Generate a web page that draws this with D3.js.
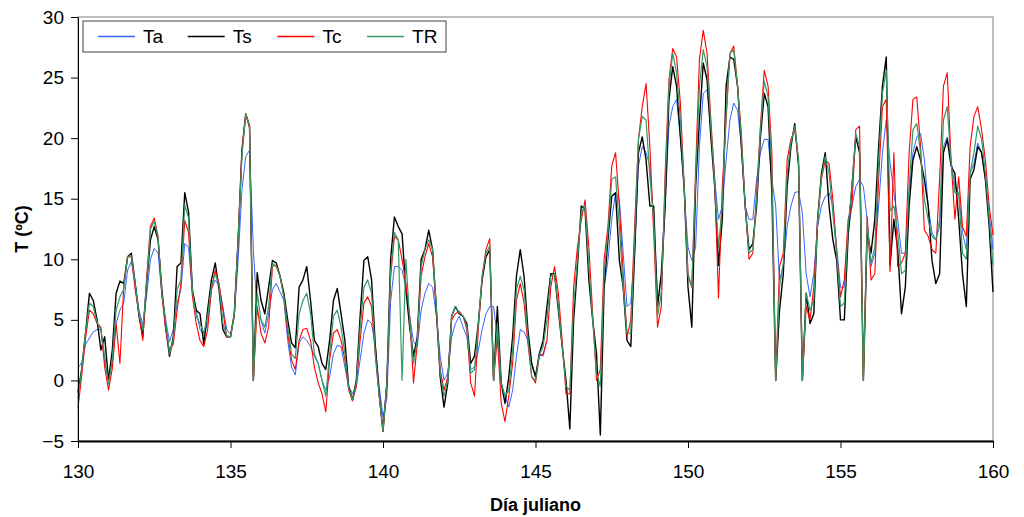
<!DOCTYPE html>
<html>
<head>
<meta charset="utf-8">
<script src="https://cdn.jsdelivr.net/npm/d3@7"></script>
<style>
  body { margin: 0; background: #fff; }
  text { font-family: "Liberation Sans", Arial, sans-serif; }
</style>
</head>
<body>
<div id="chart"></div>
<script>
// frame
const FRAME_WIDTH = 1024;
const FRAME_HEIGHT = 517;
const MARGINS = {left: 78, right: 31, top: 17, bottom: 76};
const VIS_WIDTH = FRAME_WIDTH - MARGINS.left - MARGINS.right;
const VIS_HEIGHT = FRAME_HEIGHT - MARGINS.top - MARGINS.bottom;

// data: one reading every 3 hours (1/8 day), day 130 to 160
const DAY_START = 130;
const STEP = 0.125;
const xTicks = [130, 135, 140, 145, 150, 155, 160];
const yTicks = [-5, 0, 5, 10, 15, 20, 25, 30];
const seriesNames = ["Ta", "Ts", "Tc", "TR"];
const seriesColors = ["#3366ff", "#000000", "#ff0000", "#339966"];

const Ta = [
  1.0, 1.5, 3.0, 3.5, 4.0, 4.2, 4.2, 1.5,
  0.0, 1.5, 4.7, 5.8, 6.4, 9.1, 9.8, 8.0,
  5.8, 4.6, 7.0, 10.0, 10.9, 10.5, 7.0, 5.0,
  3.2, 4.2, 6.4, 7.5, 11.3, 11.0, 7.2, 5.8,
  4.2, 3.8, 4.7, 7.5, 8.3, 7.8, 6.1, 4.2,
  3.8, 5.3, 9.9, 15.7, 18.5, 19.0, 10.8, 5.5,
  5.0, 3.9, 5.5, 7.5, 8.0, 7.3, 6.6, 3.3,
  1.1, 0.45, 3.1, 3.6, 3.3, 2.8, 2.0, 1.4,
  0.0, -0.8, 0.3, 2.2, 2.9, 2.8, 1.1, -0.5,
  -1.1, -0.5, 1.7, 3.9, 5.0, 4.7, 2.8, -0.5,
  -3.0, -1.5, 6.5, 9.4, 9.4, 9.1, 7.7, 5.3,
  3.2, 2.8, 5.8, 7.2, 8.0, 7.7, 5.3, 2.0,
  0.0, 0.6, 3.6, 4.7, 5.3, 4.4, 3.6, 0.9,
  1.1, 2.5, 4.2, 5.5, 6.1, 6.1, 3.6, -0.2,
  -1.3, -2.2, -0.8, 2.0, 4.2, 4.0, 3.3, 1.4,
  0.3, 2.2, 2.0, 3.3, null, null, null, null,
  null, null, null, null, null, null, null, null,
  null, null, 7.7, 9.9, 13.3, 15.5, 14.9, 10.5,
  6.1, 6.4, 10.5, 17.7, 19.3, 18.8, 17.7, 13.3,
  6.9, 7.2, 14.4, 21.0, 22.6, 23.2, 20.1, 15.5,
  11.0, 9.9, 11.0, 19.3, 23.7, 24.0, 20.7, 16.6,
  13.3, 14.4, 18.2, 21.5, 22.9, 22.3, 19.3, 14.4,
  13.3, 13.3, 16.6, 18.8, 19.9, 19.9, 16.6, 14.4,
  8.3, 9.4, 12.7, 14.4, 15.5, 15.6, 13.8, 8.8,
  6.9, 8.8, 12.7, 14.4, 15.2, 15.5, 14.4, 11.0,
  7.7, 7.7, 12.2, 14.4, 16.0, 16.6, 16.0, 13.3,
  9.4, 10.5, 14.4, 18.8, 21.5, 18.0, 15.5, 13.3,
  10.5, 10.5, 15.5, 18.8, 20.1, 20.4, 18.2, 14.4,
  12.2, 11.6, 12.7, 19.3, 20.1, 18.2, 16.0, 15.5,
  12.2, 10.8, 17.1, 17.9, 19.6, 18.8, 16.6, 13.8,
  10.8
];

const Ts = [
  -1.0, 1.0, 4.0, 7.2, 6.6, 5.0, 2.5, 3.6,
  0.0, 2.5, 7.2, 8.2, 8.0, 10.2, 10.5, 8.0,
  5.3, 3.6, 8.0, 11.6, 12.7, 11.6, 7.5, 4.4,
  2.0, 3.6, 9.4, 9.7, 15.5, 13.9, 7.5, 5.8,
  5.5, 3.0, 5.8, 8.3, 9.7, 7.5, 4.2, 3.6,
  3.6, 5.5, 11.6, 19.0, 22.0, 21.0, 0, 8.9,
  6.6, 5.5, 7.7, 9.9, 9.7, 8.6, 7.2, 5.0,
  3.1, 2.7, 7.7, 8.3, 9.4, 6.6, 3.3, 2.8,
  1.4, 0.9, 3.3, 6.6, 7.6, 5.5, 3.3, -0.5,
  -1.6, 0.0, 5.3, 9.9, 10.2, 8.3, 2.8, -1.1,
  -4.2, -0.3, 10.0, 13.5, 12.7, 12.1, 7.5, 4.4,
  2.0, 3.6, 10.0, 10.8, 12.4, 10.8, 5.8, 0.3,
  -2.2, -0.2, 5.3, 6.1, 5.5, 5.3, 4.7, 1.4,
  2.0, 4.7, 8.3, 10.2, 10.8, 0, 6.1, -0.2,
  -1.9, 0.3, 3.6, 8.6, 10.8, 8.6, 4.2, 1.4,
  0.3, 2.2, 3.3, 6.1, 8.8, 8.8, 5.8, 2.8,
  0.0, -4.0, 5.0, 9.4, 14.4, 14.1, 8.3, 5.0,
  2.2, -4.5, 7.7, 11.6, 15.2, 15.5, 9.9, 7.7,
  3.3, 2.8, 10.5, 18.8, 20.1, 18.2, 14.4, 14.4,
  6.1, 8.8, 14.4, 23.2, 25.9, 24.3, 20.1, 16.0,
  7.7, 4.4, 16.0, 21.5, 26.2, 24.8, 20.1, 16.0,
  9.5, 13.3, 24.3, 26.7, 26.5, 24.3, 19.3, 14.4,
  10.8, 11.3, 14.4, 20.1, 23.7, 22.6, 15.5, 0,
  5.8, 8.8, 16.0, 19.3, 21.2, 17.7, 0, 7.2,
  4.7, 5.5, 13.3, 17.1, 18.8, 14.4, 11.6, 9.9,
  5.0, 5.0, 11.9, 16.0, 20.1, 18.8, 0, 12.2,
  10.5, 13.3, 19.3, 24.3, 26.7, 9.5, 13.3, 10.8,
  5.5, 7.7, 14.4, 18.2, 19.3, 18.2, 16.6, 14.4,
  9.9, 8.0, 8.8, 18.8, 19.9, 17.7, 17.1, 13.3,
  8.8, 6.1, 16.6, 17.4, 19.3, 18.8, 16.6, 12.7,
  7.3
];

const Tc = [
  -2.3, 0.5, 3.5, 5.8, 5.5, 4.7, 4.4, 1.1,
  -0.8, 1.0, 4.7, 1.4, 7.8, 10.2, 10.2, 7.5,
  5.5, 3.3, 8.5, 12.7, 13.4, 11.9, 7.0, 4.2,
  2.5, 3.0, 5.8, 8.0, 13.2, 12.2, 7.0, 4.7,
  3.3, 2.8, 4.2, 7.5, 9.1, 8.0, 5.8, 3.6,
  3.6, 5.5, 11.6, 19.0, 22.0, 20.8, 0, 6.1,
  3.9, 3.1, 4.4, 9.4, 9.5, 8.6, 6.9, 3.9,
  1.7, 0.9, 3.3, 4.2, 4.3, 3.3, 1.1, -0.2,
  -1.1, -2.6, 1.7, 3.9, 4.2, 3.3, 1.7, -0.8,
  -1.7, -0.5, 3.3, 6.4, 6.9, 6.1, 2.0, -1.3,
  -4.2, -0.3, 8.5, 11.9, 11.6, 10.0, 8.0, 5.3,
  -0.2, 3.1, 8.6, 10.2, 11.3, 10.2, 5.8, 0.9,
  -0.8, 0.3, 5.0, 5.5, 5.7, 5.3, 4.2, -0.2,
  -1.3, 4.2, 8.6, 10.8, 11.7, 0, 3.6, -1.9,
  -3.4, -1.3, 1.4, 6.6, 8.0, 6.4, 3.1, 0.3,
  -0.2, 2.0, 2.2, 3.3, 7.7, 9.4, 7.2, 3.3,
  -1.1, -1.1, 7.7, 11.0, 13.2, 14.9, 11.0, 5.5,
  0.0, 0.9, 10.0, 12.7, 17.7, 18.8, 14.4, 8.8,
  3.6, 5.0, 12.7, 19.9, 22.6, 24.5, 19.3, 12.2,
  4.4, 6.1, 17.1, 24.8, 27.4, 26.7, 22.9, 16.0,
  8.8, 7.7, 17.4, 26.5, 28.9, 27.0, 21.5, 16.6,
  6.8, 16.0, 21.5, 27.0, 27.6, 24.3, 20.4, 14.4,
  10.0, 10.5, 15.5, 21.0, 25.6, 24.3, 18.8, 0,
  9.4, 10.5, 18.2, 19.9, 20.7, 18.2, 0, 6.1,
  5.0, 7.7, 13.3, 16.6, 18.2, 17.9, 14.9, 10.5,
  6.9, 8.3, 13.3, 14.4, 20.7, 21.0, 0, 13.5,
  8.3, 8.8, 16.6, 22.6, 23.2, 9.0, 18.8, 9.4,
  9.7, 10.5, 18.8, 23.2, 23.4, 19.3, 12.4, 11.9,
  10.8, 10.5, 16.6, 24.3, 25.4, 18.2, 13.3, 16.8,
  12.7, 11.9, 19.3, 21.8, 22.6, 20.7, 18.2, 14.4,
  12.0
];

const TR = [
  -1.5, 1.0, 4.0, 6.4, 6.1, 4.8, 4.2, 2.0,
  -0.3, 1.8, 5.8, 6.9, 7.5, 10.2, 10.3, 8.0,
  5.5, 4.2, 8.0, 12.5, 13.1, 11.8, 7.2, 4.8,
  2.2, 3.4, 7.5, 8.3, 14.5, 13.4, 7.4, 5.3,
  4.7, 3.9, 5.3, 7.8, 8.8, 7.8, 4.7, 3.7,
  3.6, 5.5, 11.6, 18.5, 22.0, 21.0, 0, 7.2,
  5.0, 4.4, 6.1, 9.7, 9.4, 8.6, 6.9, 4.4,
  2.2, 1.8, 5.5, 6.6, 7.2, 5.5, 2.2, 1.4,
  0.0, -1.3, 2.2, 5.3, 5.8, 4.4, 2.2, -0.6,
  -1.6, -0.2, 4.4, 7.7, 8.3, 7.2, 2.2, -1.2,
  -4.2, -0.3, 9.0, 12.2, 11.6, 0, 10.0, 5.0,
  1.4, 3.4, 9.4, 10.8, 11.6, 10.8, 6.1, 0.6,
  -1.3, 0.0, 5.3, 6.1, 5.6, 5.3, 4.5, 0.6,
  0.9, 4.7, 8.6, 10.5, 11.1, 0, 4.7, -0.2,
  -1.3, -0.8, 2.5, 7.5, 8.6, 7.5, 3.6, 0.3,
  0.0, 2.1, 2.8, 5.0, 8.6, 8.8, 6.1, 2.8,
  -0.5, -0.8, 6.1, 10.0, 13.8, 14.4, 9.4, 5.0,
  0.6, -0.5, 8.8, 12.2, 16.6, 16.8, 12.7, 7.7,
  3.9, 3.9, 11.6, 19.9, 21.8, 21.5, 16.8, 13.3,
  5.3, 7.2, 16.0, 24.3, 27.0, 25.4, 21.5, 16.0,
  8.6, 7.7, 16.6, 24.3, 27.3, 25.9, 21.0, 16.3,
  11.0, 14.4, 22.1, 27.0, 27.3, 24.3, 19.9, 14.4,
  10.5, 10.8, 14.9, 20.7, 24.7, 23.4, 17.4, 0,
  7.7, 9.7, 17.1, 19.6, 21.0, 18.2, 0, 7.2,
  5.8, 6.6, 13.0, 16.8, 18.5, 17.1, 13.8, 10.5,
  6.1, 6.4, 12.7, 16.0, 20.4, 19.3, 0, 13.0,
  9.7, 11.0, 18.2, 23.7, 25.6, 14.0, 14.4, 12.2,
  8.8, 9.1, 16.0, 20.7, 21.2, 18.8, 14.9, 13.3,
  11.9, 11.6, 13.3, 21.5, 22.6, 17.9, 15.5, 15.5,
  10.5, 10.0, 17.1, 18.8, 21.0, 19.9, 17.1, 13.3,
  9.5
];

const seriesValues = [Ta, Ts, Tc, TR];
const seriesWidths = [1, 1.4, 1.1, 1.2];

const FRAME = d3.select("#chart")
  .append("svg")
    .attr("width", FRAME_WIDTH)
    .attr("height", FRAME_HEIGHT);

const x_scale = d3.scaleLinear()
  .domain([130, 160])
  .range([MARGINS.left, MARGINS.left + VIS_WIDTH]);

const y_scale = d3.scaleLinear()
  .domain([-5, 30])
  .range([MARGINS.top + VIS_HEIGHT, MARGINS.top]);

// plot area border (grey on top and right)
FRAME.append("rect")
  .attr("x", MARGINS.left)
  .attr("y", MARGINS.top)
  .attr("width", VIS_WIDTH)
  .attr("height", VIS_HEIGHT)
  .attr("fill", "none")
  .attr("stroke", "#808080")
  .attr("stroke-width", 1);

// lines
const line = d3.line()
  .defined(d => d !== null)
  .x((d, i) => x_scale(DAY_START + i * STEP))
  .y(d => y_scale(d));

seriesValues.forEach((vals, k) => {
  FRAME.append("path")
    .datum(vals)
    .attr("d", line)
    .attr("fill", "none")
    .attr("stroke", seriesColors[k])
    .attr("stroke-width", seriesWidths[k])
    .attr("stroke-linejoin", "round");
});

// axes
const xAxis = FRAME.append("g")
  .attr("transform", "translate(0," + (MARGINS.top + VIS_HEIGHT) + ")")
  .call(d3.axisBottom(x_scale).tickValues(xTicks).tickSize(7).tickSizeOuter(0).tickPadding(17));
xAxis.select(".domain").attr("stroke-width", 2);
xAxis.selectAll("text").attr("font-size", "19px").attr("fill", "#000");

const yAxis = FRAME.append("g")
  .attr("transform", "translate(" + MARGINS.left + ",0)")
  .call(d3.axisLeft(y_scale).tickValues(yTicks).tickSize(7).tickSizeOuter(0).tickPadding(7));
yAxis.selectAll("text").attr("font-size", "19px").attr("fill", "#000");

// axis titles
FRAME.append("text")
  .attr("x", MARGINS.left + VIS_WIDTH / 2)
  .attr("y", 511)
  .attr("text-anchor", "middle")
  .attr("font-size", "18px")
  .attr("font-weight", "bold")
  .text("Día juliano");

FRAME.append("text")
  .attr("transform", "translate(28," + (MARGINS.top + VIS_HEIGHT / 2) + ") rotate(-90)")
  .attr("text-anchor", "middle")
  .attr("font-size", "18px")
  .attr("font-weight", "bold")
  .text("T (ºC)");

// legend
const LEGEND = FRAME.append("g").attr("transform", "translate(83,21)");
LEGEND.append("rect")
  .attr("width", 363)
  .attr("height", 31)
  .attr("fill", "#fff")
  .attr("stroke", "#404040")
  .attr("stroke-width", 1);

seriesNames.forEach((name, k) => {
  const lx = 15 + k * 89.7;
  LEGEND.append("line")
    .attr("x1", lx).attr("x2", lx + 37)
    .attr("y1", 15.5).attr("y2", 15.5)
    .attr("stroke", seriesColors[k])
    .attr("stroke-width", 1.3);
  LEGEND.append("text")
    .attr("x", lx + 45)
    .attr("y", 22)
    .attr("font-size", "19px")
    .text(name);
});
</script>
</body>
</html>
